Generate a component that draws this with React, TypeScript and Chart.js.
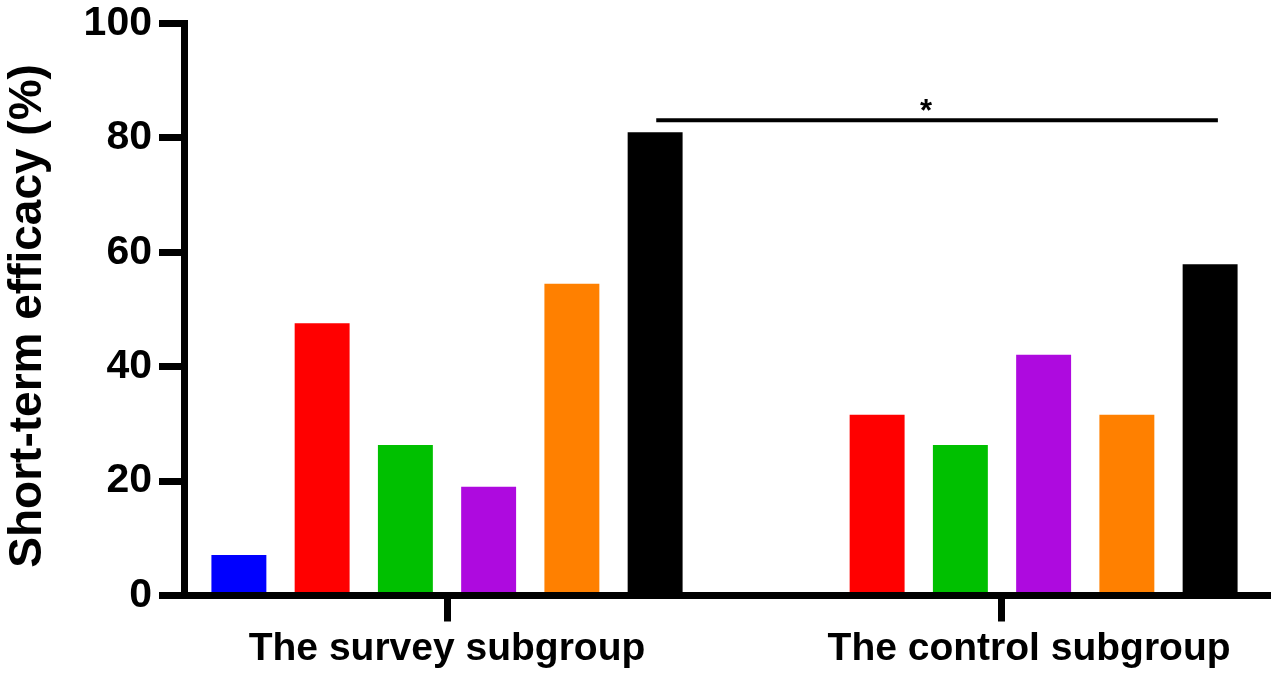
import React, { useEffect, useRef } from 'react';
import { Chart, registerables } from 'chart.js';

Chart.register(...registerables);

// ---- data ----
const groupLabels = ['The survey subgroup', '     The control subgroup'];
const groupPositions = [0, 1];
const seriesNames = ['Group 1', 'Group 2', 'Group 3', 'Group 4', 'Group 5', 'Total'];
const seriesColors = ['#0000FF', '#FF0000', '#00C000', '#AE0ADF', '#FF8000', '#000000'];
const surveyValues: (number | null)[] = [7.1, 47.6, 26.3, 19.0, 54.5, 81.0];
const controlValues: (number | null)[] = [null, 31.6, 26.3, 42.1, 31.6, 57.9];
const yTickValues = [0, 20, 40, 60, 80, 100];
const yAxisTitle = 'Short-term efficacy (%) ';
// significance bracket (x in group units, y in %)
const sigFrom = 0.377;
const sigTo = 1.389;
const sigY = 83.1;
const sigStarX = 0.863;
const sigLabel = '*';

const FONT = '"Liberation Sans", Arial, Helvetica, sans-serif';

const sigPlugin = {
  id: 'sigPlugin',
  afterDatasetsDraw(chart: any) {
    const { ctx, scales } = chart;
    const xs = scales.x;
    const ys = scales.y;
    const x1 = xs.getPixelForValue(sigFrom);
    const x2 = xs.getPixelForValue(sigTo);
    const y = ys.getPixelForValue(sigY);
    ctx.save();
    ctx.strokeStyle = '#000';
    ctx.lineWidth = 4;
    ctx.beginPath();
    ctx.moveTo(x1, y);
    ctx.lineTo(x2, y);
    ctx.stroke();
    ctx.fillStyle = '#000';
    ctx.font = `bold 31px ${FONT}`;
    ctx.textAlign = 'center';
    ctx.textBaseline = 'alphabetic';
    ctx.fillText(sigLabel, xs.getPixelForValue(sigStarX), y + 1);
    ctx.restore();
  },
};

export default function App() {
  const ref = useRef<HTMLCanvasElement | null>(null);
  useEffect(() => {
    if (!ref.current) return;
    const datasets = seriesNames.map((name, i) => ({
      label: name,
      data: groupPositions.map((gx, g) => ({
        x: gx,
        y: g === 0 ? surveyValues[i] : controlValues[i],
      })),
      backgroundColor: seriesColors[i],
      borderWidth: 0,
      categoryPercentage: 0.9,
      barPercentage: 0.66,
    }));
    const chart = new Chart(ref.current, {
      type: 'bar',
      data: { datasets },
      plugins: [sigPlugin],
      options: {
        animation: false,
        responsive: true,
        maintainAspectRatio: false,
        layout: { padding: { top: 23.5, right: 6, left: 0, bottom: 0 } },
        plugins: { legend: { display: false }, tooltip: { enabled: false } },
        scales: {
          x: {
            type: 'linear',
            offset: false,
            min: -0.4739,
            max: 1.4829,
            afterBuildTicks: (scale: any) => {
              scale.ticks = groupPositions.map((v) => ({ value: v }));
            },
            afterFit: (scale: any) => {
              scale.height = 77.5;
              scale.paddingLeft = 0;
              scale.paddingRight = 0;
            },
            ticks: {
              callback: (v: any) => groupLabels[groupPositions.indexOf(Number(v))] ?? '',
              color: '#000',
              font: { family: FONT, size: 39, weight: 'bold' },
              padding: 4,
              maxRotation: 0,
              autoSkip: false,
            },
            grid: {
              offset: false,
              drawOnChartArea: false,
              drawTicks: true,
              tickLength: 26,
              tickWidth: 7,
              tickColor: '#000',
            },
            border: { display: true, color: '#000', width: 7, z: 1 },
          },
          y: {
            min: 0,
            max: 100,
            afterBuildTicks: (scale: any) => {
              scale.ticks = yTickValues.map((v) => ({ value: v }));
            },
            afterFit: (scale: any) => {
              scale.width = 184;
              scale.paddingTop = 0;
              scale.paddingBottom = 0;
            },
            ticks: {
              color: '#000',
              font: { family: FONT, size: 41, weight: 'bold' },
              padding: 7,
            },
            grid: {
              drawOnChartArea: false,
              drawTicks: true,
              tickLength: 25,
              tickWidth: 7,
              tickColor: '#000',
            },
            border: { display: true, color: '#000', width: 7, z: 1 },
            title: {
              display: true,
              text: yAxisTitle,
              color: '#000',
              font: { family: FONT, size: 46, weight: 'bold' },
              padding: { top: 1, bottom: 0 },
            },
          },
        },
      } as any,
    });
    return () => chart.destroy();
  }, []);
  return (
    <div style={{ position: 'fixed', left: 0, top: 0, width: 1276, height: 673, background: '#fff' }}>
      <canvas ref={ref} />
    </div>
  );
}
